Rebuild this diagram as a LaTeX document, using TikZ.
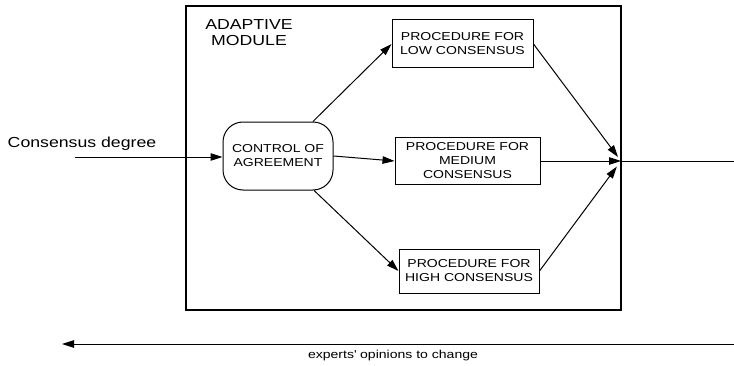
\documentclass[tikz,border=0pt]{standalone}
\usepackage{fontspec}
\setmainfont[FakeStretch=1.22]{Liberation Sans}
\usepackage{tikz}
\usetikzlibrary{arrows.meta}
\tikzset{
  procbox/.style={draw,line width=1pt,align=center,inner sep=0pt,font=\fontsize{11.5}{14}\selectfont},
  flow/.style={-{Triangle[length=12pt,width=7.5pt]},line width=1pt},
  bigtext/.style={font=\fontsize{14.5}{16}\selectfont},
  smalltext/.style={font=\fontsize{11.5}{14}\selectfont}
}

\begin{document}
\begin{tikzpicture}[x=1pt,y=1pt]
	 \useasboundingbox (0,0) rectangle (734,365);
	 \node[draw,line width=1.3pt,minimum width=435pt,minimum height=304pt,inner sep=0pt] (module) at (403.5,207) {};
	 \node[bigtext,align=center] (title) at (249,332) {ADAPTIVE\\MODULE};
	 \node[procbox,rounded corners=20pt,minimum width=110pt,minimum height=68pt] (control) at (278,209) {CONTROL OF\\AGREEMENT};
	 \node[procbox,minimum width=141pt,minimum height=48pt] (low) at (462.5,321) {PROCEDURE FOR\\LOW CONSENSUS};
	 \node[procbox,minimum width=145pt,minimum height=47pt] (medium) at (467.5,204) {PROCEDURE FOR\\MEDIUM\\CONSENSUS};
	 \node[procbox,minimum width=140pt,minimum height=44pt] (high) at (469,94) {PROCEDURE FOR\\HIGH CONSENSUS};
	 \node[bigtext,anchor=base] (degree) at (82,218) {Consensus degree};
	 \node[smalltext,anchor=base] (change) at (393,7) {experts\textquotesingle{} opinions to change};
	 \coordinate (input) at (75,208);
	 \coordinate (merge) at (621,204);
	 \coordinate (output) at (734,204);
	 \coordinate (back) at (734,21);
	 \coordinate (backend) at (62,21);
	 \draw[flow] (input) -- (control.west |- input);
	 \draw[flow] (control) -- (low.west);
	 \draw[flow] (control.east) -- (medium.west);
	 \draw[flow] (control) -- (high.west);
	 \draw[flow,shorten >=5pt] (low.east) -- (merge);
	 \draw[flow] (medium.east) -- (merge);
	 \draw[flow,shorten >=7pt] (high.east) -- (merge);
	 \draw[line width=1pt] (merge) -- (output);
	 \draw[flow] (back) -- (backend);
\end{tikzpicture}
\end{document}
